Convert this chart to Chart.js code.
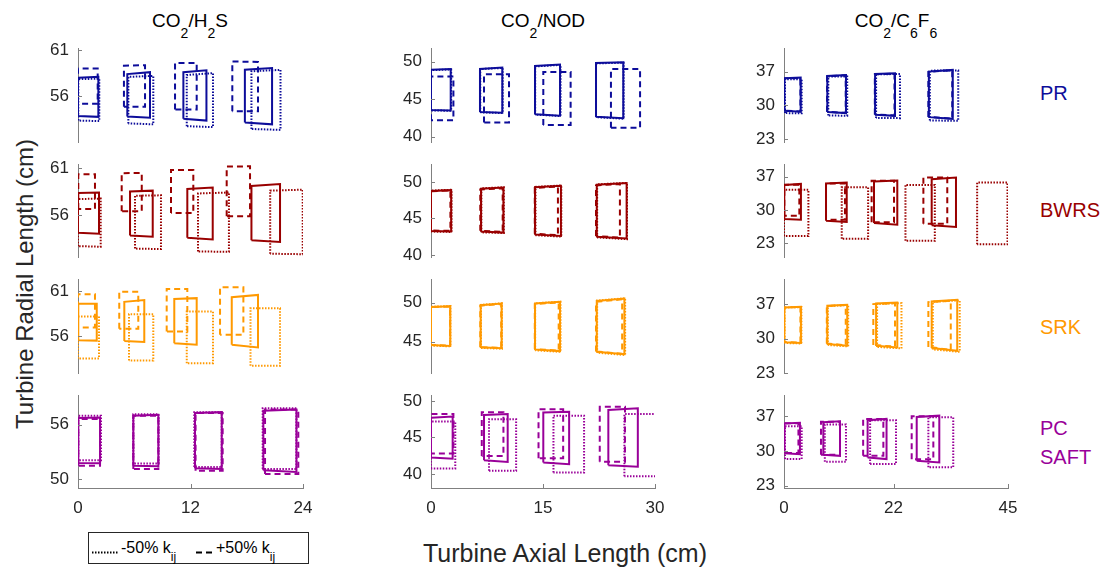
<!DOCTYPE html>
<html>
<head>
<meta charset="utf-8">
<script src="https://cdn.jsdelivr.net/npm/chart.js@4.4.0/dist/chart.umd.min.js"></script>
<style>
  body { margin: 0; background: #fff; font-family: "Liberation Sans", Arial, sans-serif; }
  #wrap { position: relative; width: 1106px; height: 569px; overflow: hidden; }
  #wrap canvas { position: absolute; }
  .txt { position: absolute; white-space: nowrap; line-height: 1; }
  .title { font-size: 19px; color: #000; transform: translateX(-50%); }
  .title sub { font-size: 14px; vertical-align: -11px; line-height: 0; }
  .eos { font-size: 20px; left: 1040px; }
  .axt { font-size: 24px; color: #262626; }
  #legend { position: absolute; left: 88px; top: 532px; width: 221px; height: 32px; border: 1px solid #262626; box-sizing: border-box; }
  #legend .lt { position: absolute; top: 7px; font-size: 16px; line-height: 1; color: #000; white-space: nowrap; }
  #legend sub { font-size: 12px; vertical-align: -8px; line-height: 0; }
  #legend svg { position: absolute; top: 0; left: 0; }
</style>
</head>
<body>
<div id="wrap">
  <div class="txt title" style="left:190px; top:11px;">CO<sub>2</sub>/H<sub>2</sub>S</div>
  <div class="txt title" style="left:543px; top:11px;">CO<sub>2</sub>/NOD</div>
  <div class="txt title" style="left:896px; top:11px;">CO<sub>2</sub>/C<sub>6</sub>F<sub>6</sub></div>

  <div class="txt eos" style="top:83px; color:#0d0d9a;">PR</div>
  <div class="txt eos" style="top:200px; color:#990000;">BWRS</div>
  <div class="txt eos" style="top:317px; color:#ff9900;">SRK</div>
  <div class="txt eos" style="top:418px; color:#990099;">PC</div>
  <div class="txt eos" style="top:447px; color:#990099;">SAFT</div>

  <div class="txt axt" style="left:25px; top:284px; transform: translate(-50%,-50%) rotate(-90deg);">Turbine Radial Length (cm)</div>
  <div class="txt axt" style="left:565px; top:541px; font-size:25px; transform: translateX(-50%);">Turbine Axial Length (cm)</div>

  <div id="legend">
    <svg width="219" height="30">
      <line x1="3" y1="19.5" x2="30" y2="19.5" stroke="#000" stroke-width="2" stroke-dasharray="1.5 1.5"/>
      <line x1="107" y1="19.5" x2="126" y2="19.5" stroke="#000" stroke-width="2" stroke-dasharray="6 4"/>
    </svg>
    <div class="lt" style="left:32px;">-50% k<sub>ij</sub></div>
    <div class="lt" style="left:127px;">+50% k<sub>ij</sub></div>
  </div>
</div>

<script>
// each stage: [x left, x right, top left, top right, bottom left, bottom right]

// CO2/H2S
const h2sPR_base = [[0, 2.17, 58.0, 58.1, 53.9, 53.8], [5.26, 7.68, 58.4, 58.6, 53.85, 53.7], [11.24, 13.7, 58.6, 58.8, 53.6, 53.4], [17.8, 20.7, 58.86, 59.05, 53.2, 53.0]];
const h2sPR_plus = [[0, 2.1, 59.0, 59.0, 55.2, 55.2], [4.9, 7.15, 59.3, 59.35, 54.9, 54.9], [10.35, 12.66, 59.6, 59.6, 54.6, 54.6], [16.46, 19.2, 59.75, 59.7, 54.4, 54.4]];
const h2sPR_minus = [[0.03, 2.27, 57.86, 57.9, 53.4, 53.35], [5.37, 8.03, 58.1, 58.2, 53.1, 53.0], [11.6, 14.4, 58.3, 58.5, 52.8, 52.7], [18.5, 21.6, 58.7, 58.85, 52.5, 52.4]];

const h2sBWRS_base = [[0, 2.24, 58.34, 58.4, 54.1, 54.0], [5.55, 7.97, 58.5, 58.6, 53.8, 53.66], [11.66, 14.37, 58.77, 58.94, 53.55, 53.37], [18.5, 21.55, 59.1, 59.3, 53.3, 53.1]];
const h2sBWRS_plus = [[0.03, 1.81, 60.36, 60.36, 56.64, 56.64], [4.66, 6.8, 60.47, 60.5, 56.4, 56.4], [9.92, 12.3, 60.8, 60.8, 56.2, 56.2], [15.86, 18.35, 61.17, 61.2, 55.85, 55.85]];
const h2sBWRS_minus = [[0, 2.42, 57.7, 57.75, 52.66, 52.6], [6.08, 8.85, 58.05, 58.1, 52.4, 52.35], [12.8, 16.1, 58.3, 58.4, 52.1, 52.05], [20.5, 23.97, 58.6, 58.7, 51.85, 51.8]];

const h2sSRK_base = [[0.03, 2.0, 59.58, 59.6, 55.6, 55.55], [4.94, 7.07, 59.8, 60.0, 55.5, 55.4], [10.27, 12.66, 60.1, 60.2, 55.27, 55.1], [16.4, 19.2, 60.3, 60.56, 55.1, 54.8]];
const h2sSRK_plus = [[0, 1.81, 60.64, 60.64, 56.98, 56.98], [4.4, 6.43, 60.9, 60.9, 56.84, 56.84], [9.46, 11.66, 61.2, 61.2, 56.54, 56.54], [15.15, 17.64, 61.4, 61.4, 56.2, 56.2]];
const h2sSRK_minus = [[0, 2.24, 58.2, 58.2, 53.6, 53.6], [5.44, 8.03, 58.45, 58.45, 53.37, 53.37], [11.6, 14.4, 58.73, 58.73, 53.08, 53.08], [18.4, 21.55, 59.1, 59.1, 52.8, 52.8]];

const h2sPC_base = [[0.03, 2.35, 56.74, 56.8, 51.77, 51.75], [5.9, 8.57, 57.0, 57.1, 51.47, 51.4], [12.48, 15.33, 57.3, 57.4, 51.2, 51.1], [19.77, 23.3, 57.55, 57.7, 50.96, 50.78]];
const h2sPC_plus = [[0.03, 2.35, 56.63, 56.63, 51.47, 51.47], [5.9, 8.57, 57.0, 57.0, 51.1, 51.1], [12.54, 15.43, 57.3, 57.3, 50.92, 50.92], [19.95, 23.5, 57.7, 57.7, 50.56, 50.56]];
const h2sPC_minus = [[0.03, 2.45, 57.0, 57.0, 52.06, 52.06], [5.9, 8.6, 57.18, 57.18, 51.7, 51.7], [12.4, 15.33, 57.4, 57.4, 51.33, 51.33], [19.7, 23.3, 57.84, 57.84, 51.1, 51.1]];

// CO2/NOD
const nodPR_base = [[0, 2.64, 48.9, 49.0, 43.56, 43.5], [6.56, 9.55, 49.0, 49.2, 43.3, 43.2], [13.93, 17.28, 49.4, 49.6, 43.0, 42.8], [22.1, 25.75, 49.8, 49.9, 42.67, 42.45]];
const nodPR_plus = [[0, 3.0, 48.0, 48.0, 42.2, 42.2], [7.1, 10.45, 48.3, 48.3, 41.9, 41.9], [15.04, 18.7, 48.6, 48.6, 41.56, 41.56], [24.1, 28.0, 49.0, 49.0, 41.2, 41.2]];
const nodPR_minus = [[0, 2.7, 48.85, 48.95, 43.5, 43.45], [6.6, 9.6, 49.0, 49.15, 43.25, 43.15], [13.95, 17.35, 49.35, 49.55, 42.95, 42.75], [22.1, 25.8, 49.75, 49.85, 42.6, 42.4]];

const nodBWRS_base = [[0, 2.7, 48.8, 48.9, 43.27, 43.2], [6.7, 9.7, 49.1, 49.25, 43.2, 43.06], [13.93, 17.4, 49.3, 49.5, 42.8, 42.6], [22.2, 26.2, 49.65, 49.87, 42.5, 42.25]];
const nodBWRS_plus = [[0, 2.6, 48.75, 48.85, 43.35, 43.3], [6.6, 9.6, 49.0, 49.15, 43.3, 43.15], [13.9, 17.0, 49.2, 49.4, 42.9, 42.7], [22.1, 25.3, 49.55, 49.75, 42.6, 42.35]];
const nodBWRS_minus = [[0, 2.75, 48.85, 48.95, 43.2, 43.15], [6.75, 9.75, 49.15, 49.3, 43.1, 43.0], [14.0, 17.45, 49.35, 49.55, 42.7, 42.5], [22.25, 26.25, 49.7, 49.9, 42.4, 42.15]];

const nodSRK_base = [[0, 2.58, 49.44, 49.53, 44.57, 44.45], [6.65, 9.46, 49.66, 49.87, 44.28, 44.15], [13.93, 17.28, 49.87, 50.08, 44.0, 43.8], [22.2, 25.9, 50.2, 50.5, 43.7, 43.4]];
const nodSRK_plus = [[0, 2.55, 49.4, 49.5, 44.6, 44.5], [6.6, 9.4, 49.6, 49.8, 44.3, 44.2], [13.9, 17.1, 49.8, 50.0, 44.05, 43.85], [22.1, 25.6, 50.1, 50.4, 43.75, 43.45]];
const nodSRK_minus = [[0, 2.6, 49.45, 49.55, 44.5, 44.4], [6.7, 9.5, 49.7, 49.9, 44.2, 44.1], [13.95, 17.35, 49.9, 50.1, 43.9, 43.7], [22.25, 26.0, 50.25, 50.55, 43.6, 43.3]];

const nodPC_base = [[0, 2.9, 47.7, 47.85, 42.25, 42.1], [7.1, 10.27, 48.07, 48.2, 41.9, 41.66], [15.04, 18.5, 48.4, 48.5, 41.57, 41.35], [23.75, 27.7, 48.75, 48.98, 41.2, 41.0]];
const nodPC_plus = [[0, 3.0, 48.2, 48.2, 42.8, 42.8], [6.8, 9.7, 48.44, 48.44, 42.46, 42.46], [14.4, 17.7, 48.84, 48.84, 42.15, 42.15], [22.6, 25.98, 49.2, 49.2, 41.7, 41.7]];
const nodPC_minus = [[0, 3.25, 47.17, 47.17, 40.77, 40.77], [7.77, 11.4, 47.5, 47.5, 40.45, 40.45], [16.4, 20.5, 47.98, 47.98, 40.2, 40.2], [25.9, 31.5, 48.2, 48.2, 39.7, 39.7]];

// CO2/C6F6
const c6PR_base = [[0.06, 3.35, 35.63, 35.76, 28.86, 28.7], [8.7, 12.45, 36.1, 36.3, 28.6, 28.4], [18.3, 22.3, 36.5, 36.66, 28.04, 27.83], [29.1, 33.9, 37.0, 37.35, 27.56, 27.2]];
const c6PR_plus = [[0.06, 3.3, 35.6, 35.7, 28.9, 28.75], [8.65, 12.4, 36.05, 36.25, 28.65, 28.45], [18.25, 22.2, 36.45, 36.6, 28.1, 27.9], [29.0, 33.8, 36.95, 37.3, 27.6, 27.25]];
const c6PR_minus = [[0.2, 3.55, 35.4, 35.45, 28.4, 28.35], [8.9, 12.7, 35.97, 36.0, 27.9, 27.85], [18.5, 23.3, 36.45, 36.5, 27.4, 27.35], [29.3, 35.0, 37.2, 37.25, 26.86, 26.8]];

const c6BWRS_base = [[0.06, 3.4, 35.3, 35.5, 28.1, 27.95], [8.44, 12.6, 35.6, 35.8, 27.74, 27.5], [18.08, 22.76, 36.0, 36.2, 27.27, 26.9], [29.67, 34.55, 36.5, 36.86, 26.77, 26.44]];
const c6BWRS_plus = [[0.06, 3.08, 35.35, 35.35, 28.77, 28.77], [8.44, 12.25, 35.6, 35.6, 27.95, 27.95], [17.6, 22.1, 36.18, 36.18, 27.4, 27.4], [28.0, 32.8, 36.86, 36.86, 27.1, 27.1]];
const c6BWRS_minus = [[0, 4.9, 34.26, 34.26, 24.5, 24.5], [11.6, 16.9, 34.8, 34.8, 23.97, 23.97], [24.4, 30.3, 35.3, 35.3, 23.5, 23.5], [38.8, 44.9, 35.8, 35.8, 22.8, 22.8]];

const c6SRK_base = [[0.06, 3.4, 36.33, 36.45, 29.23, 29.1], [8.7, 12.7, 36.66, 36.86, 28.9, 28.54], [18.5, 22.76, 37.14, 37.34, 28.54, 28.2], [29.67, 34.8, 37.55, 37.87, 28.1, 27.5]];
const c6SRK_plus = [[0.06, 3.3, 36.3, 36.4, 29.3, 29.15], [8.6, 12.4, 36.6, 36.8, 29.0, 28.65], [17.94, 22.3, 37.0, 37.2, 28.7, 28.35], [29.0, 33.5, 37.4, 37.7, 28.3, 27.7]];
const c6SRK_minus = [[0.1, 3.5, 36.3, 36.4, 29.1, 29.0], [8.8, 12.9, 36.6, 36.8, 28.7, 28.4], [18.7, 23.6, 37.0, 37.2, 28.3, 28.0], [29.9, 35.3, 37.45, 37.75, 27.8, 27.3]];

const c6PC_base = [[0.06, 3.2, 35.54, 35.67, 29.54, 29.34], [7.9, 11.25, 35.8, 36.0, 29.2, 29.0], [16.8, 20.6, 36.2, 36.47, 28.67, 28.34], [26.66, 31.2, 36.87, 37.13, 28.0, 27.67]];
const c6PC_plus = [[0.06, 2.9, 35.6, 35.6, 29.6, 29.6], [7.43, 11.25, 35.9, 35.9, 29.2, 29.2], [15.9, 19.96, 36.47, 36.47, 29.0, 29.0], [25.65, 30.0, 37.0, 37.0, 28.3, 28.3]];
const c6PC_minus = [[0.2, 3.55, 35.0, 35.0, 28.34, 28.34], [8.2, 12.45, 35.34, 35.34, 27.8, 27.8], [17.3, 22.5, 36.2, 36.2, 27.34, 27.34], [29.0, 34.0, 36.8, 36.8, 26.7, 26.7]];

// axes
const xMax = [24, 30, 45];
const xTicks = [[0, 12, 24], [0, 15, 30], [0, 22, 45]];
const yRange = [
  [[51.1, 61.2], [39.3, 51.8], [22.4, 41.9]],
  [[51.5, 61.45], [39.7, 52.5], [20.1, 39.7]],
  [[52.0, 62.3], [41.0, 53.0], [23.0, 42.1]],
  [[49.0, 59.3], [38.1, 50.8], [22.5, 41.3]]
];
const yTicks = [
  [[56, 61], [40, 45, 50], [23, 30, 37]],
  [[56, 61], [40, 45, 50], [23, 30, 37]],
  [[56, 61], [45, 50], [23, 30, 37]],
  [[50, 56], [40, 45, 50], [23, 30, 37]]
];
const eosColors = ['#0d0d9a', '#990000', '#ff9900', '#990099'];

const shapes = [
  [[h2sPR_base, h2sPR_plus, h2sPR_minus], [nodPR_base, nodPR_plus, nodPR_minus], [c6PR_base, c6PR_plus, c6PR_minus]],
  [[h2sBWRS_base, h2sBWRS_plus, h2sBWRS_minus], [nodBWRS_base, nodBWRS_plus, nodBWRS_minus], [c6BWRS_base, c6BWRS_plus, c6BWRS_minus]],
  [[h2sSRK_base, h2sSRK_plus, h2sSRK_minus], [nodSRK_base, nodSRK_plus, nodSRK_minus], [c6SRK_base, c6SRK_plus, c6SRK_minus]],
  [[h2sPC_base, h2sPC_plus, h2sPC_minus], [nodPC_base, nodPC_plus, nodPC_minus], [c6PC_base, c6PC_plus, c6PC_minus]]
];

// plot boxes in page pixels
const colX = [[78, 303], [431, 655], [784, 1008]];
const rowY = [[48, 142], [164, 257], [279, 373], [395, 488]];
const AXIS = '#808080';
const TXT = '#262626';
const dashes = [[], [6, 4], [1.5, 1.5]];

Chart.defaults.font.family = '"Liberation Sans", Arial, sans-serif';

const innerTicks = {
    id: 'innerTicks',
    afterDraw(chart) {
        const { ctx, chartArea: a, scales } = chart;
        ctx.save();
        ctx.strokeStyle = AXIS;
        ctx.lineWidth = 1;
        scales.y.ticks.forEach(t => {
            const p = Math.round(scales.y.getPixelForValue(t.value)) + 0.5;
            ctx.beginPath();
            ctx.moveTo(a.left, p);
            ctx.lineTo(a.left + 4, p);
            ctx.stroke();
        });
        if (scales.x.options.display) {
            scales.x.ticks.forEach(t => {
                const p = Math.round(scales.x.getPixelForValue(t.value)) + 0.5;
                ctx.beginPath();
                ctx.moveTo(p, a.bottom);
                ctx.lineTo(p, a.bottom - 4);
                ctx.stroke();
            });
        }
        ctx.restore();
    }
};

function polygon(s) {
    return [
        { x: s[0], y: s[4] },
        { x: s[0], y: s[2] },
        { x: s[1], y: s[3] },
        { x: s[1], y: s[5] },
        { x: s[0], y: s[4] }
    ];
}

const wrap = document.getElementById('wrap');
const PAD_L = 60, PAD_R = 16, PAD_T = 14, PAD_B = 14, XAX_H = 30;

for (let r = 0; r < 4; r++) {
    for (let c = 0; c < 3; c++) {
        const last = r === 3;
        const w = colX[c][1] - colX[c][0];
        const h = rowY[r][1] - rowY[r][0];
        const cv = document.createElement('canvas');
        cv.width = w + PAD_L + PAD_R;
        cv.height = h + PAD_T + (last ? XAX_H + 2 : PAD_B);
        cv.style.left = (colX[c][0] - PAD_L) + 'px';
        cv.style.top = (rowY[r][0] - PAD_T) + 'px';
        wrap.appendChild(cv);

        const datasets = [];
        shapes[r][c].forEach((set, k) => {
            set.forEach(s => {
                datasets.push({
                    data: polygon(s),
                    showLine: true,
                    borderColor: eosColors[r],
                    borderWidth: 2,
                    borderDash: dashes[k],
                    pointRadius: 0,
                    fill: false
                });
            });
        });

        new Chart(cv, {
            type: 'scatter',
            data: { datasets },
            options: {
                responsive: false,
                animation: false,
                devicePixelRatio: 1,
                layout: { padding: { top: PAD_T, right: PAD_R, bottom: last ? 2 : PAD_B, left: 0 } },
                plugins: { legend: { display: false }, tooltip: { enabled: false } },
                elements: { line: { tension: 0 } },
                scales: {
                    x: {
                        type: 'linear',
                        min: 0,
                        max: xMax[c],
                        display: last,
                        border: { display: true, color: AXIS, width: 1 },
                        grid: { display: false, drawTicks: false },
                        ticks: { color: TXT, font: { size: 17 }, padding: 10, callback: v => String(v) },
                        afterBuildTicks: s => { s.ticks = xTicks[c].map(v => ({ value: v })); },
                        afterFit: s => {
                            s.height = last ? XAX_H : 0;
                            s.paddingLeft = 0;
                            s.paddingRight = 0;
                        }
                    },
                    y: {
                        type: 'linear',
                        min: yRange[r][c][0],
                        max: yRange[r][c][1],
                        border: { display: true, color: AXIS, width: 1 },
                        grid: { display: false, drawTicks: false },
                        ticks: { color: TXT, font: { size: 17 }, padding: 9, callback: v => String(v) },
                        afterBuildTicks: s => { s.ticks = yTicks[r][c].map(v => ({ value: v })); },
                        afterFit: s => {
                            s.width = PAD_L;
                            s.paddingTop = 0;
                            s.paddingBottom = 0;
                        }
                    }
                }
            },
            plugins: [innerTicks]
        });
    }
}
</script>
</body>
</html>
